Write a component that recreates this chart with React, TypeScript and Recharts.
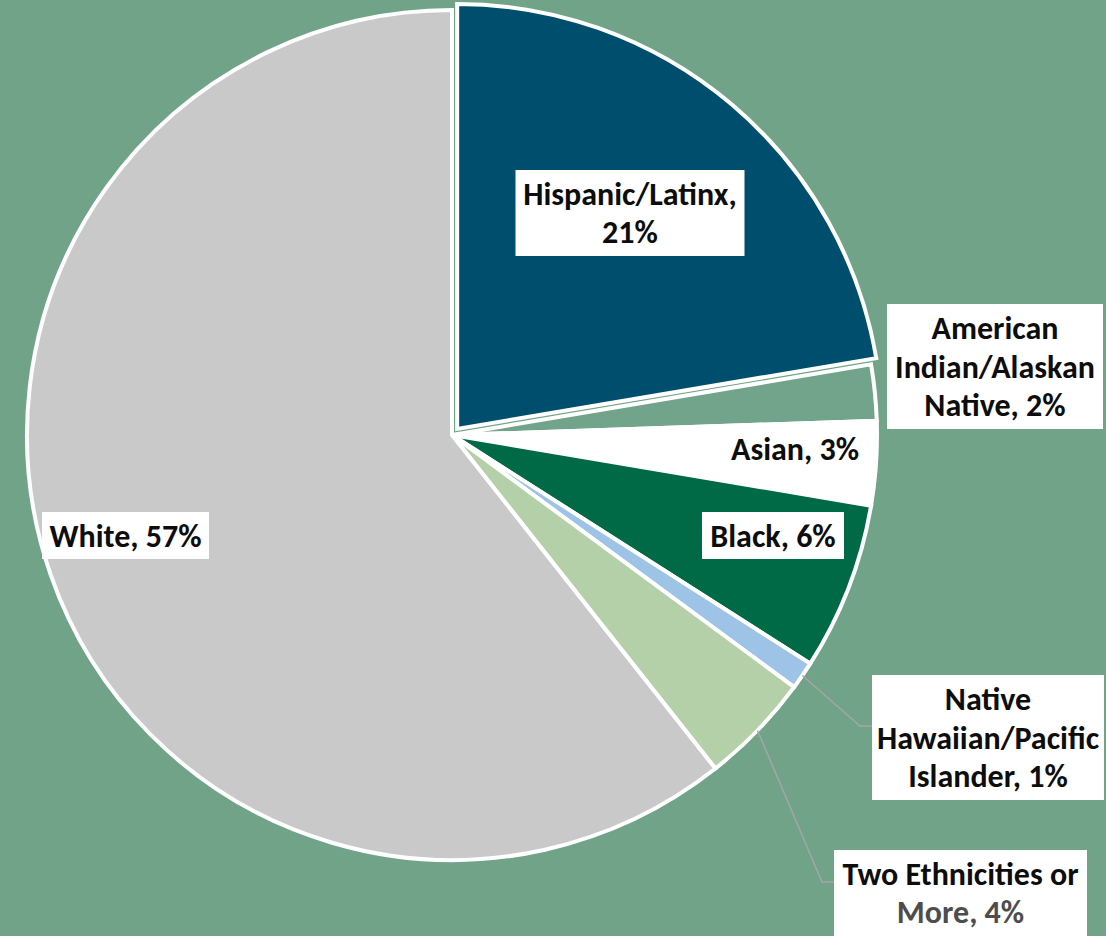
import { PieChart, Pie, Cell } from "recharts";

const CATEGORIES = [
  "Hispanic/Latinx",
  "American Indian/Alaskan Native",
  "Asian",
  "Black",
  "Native Hawaiian/Pacific Islander",
  "Two Ethnicities or More",
  "White",
];
const VALUES = [21, 2, 3, 6, 1, 4, 57];
const LABEL_LINES = [
  ["Hispanic/Latinx,", "21%"],
  ["American", "Indian/Alaskan", "Native, 2%"],
  ["Asian, 3%"],
  ["Black, 6%"],
  ["Native", "Hawaiian/Pacific", "Islander, 1%"],
  ["Two Ethnicities or", "More, 4%"],
  ["White, 57%"],
];

const COLORS = ["#004E6E", "#71A48A", "#FFFFFF", "#006946", "#9DC3E6", "#B4D0A8", "#C9C9C9"];
const BG = "#71A389";
const FONT = "Carlito, 'Liberation Sans Narrow', Lato, sans-serif";
const FONT_SIZE = 32;
const LINE_H = 38.5;

// label boxes, offsets from the pie centre (px); elbow = leader line bend
const LAYOUT = [
  { dx: 178, dy: -222, w: 229, h: 86 },
  { dx: 543, dy: -68.5, w: 216, h: 125 },
  { dx: 343, dy: 14, w: 0, h: 0 },
  { dx: 321, dy: 100.5, w: 142, h: 47 },
  { dx: 536, dy: 302.5, w: 232, h: 125, elbow: [408, 291] },
  { dx: 508.5, dy: 458, w: 253, h: 86, elbow: [370, 447], dimLast: true },
  { dx: -326.5, dy: 100.5, w: 167, h: 47 },
];

const data = CATEGORIES.map((name, i) => ({ name, value: VALUES[i] }));

const CX = 452;
const CY = 435;
const R = 425;
const EXPLODE = 8;
const total = VALUES.reduce((s, v) => s + v, 0);
const hispMid = 90 - (360 * VALUES[0]) / total / 2;
const RAD = Math.PI / 180;
const exCx = CX + EXPLODE * Math.cos(hispMid * RAD);
const exCy = CY - EXPLODE * Math.sin(hispMid * RAD);

function renderLabel(props: any) {
  const { cx, cy, index, midAngle, outerRadius } = props;
  const L: any = LAYOUT[index];
  const lines = LABEL_LINES[index];
  const bx = cx + L.dx;
  const by = cy + L.dy;
  const first = by + 11 - ((lines.length - 1) * LINE_H) / 2;
  let leader = null;
  if (L.elbow) {
    const sx = cx + outerRadius * Math.cos(-midAngle * RAD);
    const sy = cy + outerRadius * Math.sin(-midAngle * RAD);
    const ex = cx + L.elbow[0];
    const ey = cy + L.elbow[1];
    leader = (
      <polyline
        points={`${sx},${sy} ${ex},${ey} ${bx - L.w / 2},${ey}`}
        fill="none"
        stroke="#A6A6A6"
        strokeWidth={1.5}
      />
    );
  }
  return (
    <g key={`lab-${index}`}>
      {leader}
      {L.w > 0 && (
        <rect x={bx - L.w / 2} y={by - L.h / 2} width={L.w} height={L.h} fill="#FFFFFF" />
      )}
      <text
        x={bx}
        y={first}
        textAnchor="middle"
        fontFamily={FONT}
        fontWeight="bold"
        fontSize={FONT_SIZE}
        fill="#0D0D0D"
      >
        {lines.map((ln, j) => (
          <tspan
            key={j}
            x={bx}
            y={first + j * LINE_H}
            fill={L.dimLast && j === lines.length - 1 ? "#4D4D4D" : "#0D0D0D"}
          >
            {ln}
          </tspan>
        ))}
      </text>
    </g>
  );
}

export default function App() {
  return (
    <div
      style={{
        position: "absolute",
        left: 0,
        top: 0,
        width: 1106,
        height: 936,
        background: BG,
        overflow: "hidden",
      }}
    >
      <PieChart width={1106} height={936} margin={{ top: 0, right: 0, bottom: 0, left: 0 }}>
        {/* exploded Hispanic slice */}
        <Pie
          data={data}
          dataKey="value"
          nameKey="name"
          cx={exCx}
          cy={exCy}
          outerRadius={R}
          startAngle={90}
          endAngle={-270}
          label={false}
          labelLine={false}
          isAnimationActive={false}
        >
          {data.map((_, i) => (
            <Cell
              key={`ex-${i}`}
              fill={i === 0 ? COLORS[0] : "none"}
              stroke={i === 0 ? "#FFFFFF" : "none"}
              strokeWidth={4}
            />
          ))}
        </Pie>
        {/* remaining slices + labels */}
        <Pie
          data={data}
          dataKey="value"
          nameKey="name"
          cx={CX}
          cy={CY}
          outerRadius={R}
          startAngle={90}
          endAngle={-270}
          label={renderLabel}
          labelLine={false}
          isAnimationActive={false}
        >
          {data.map((_, i) => (
            <Cell
              key={`c-${i}`}
              fill={i === 0 ? "none" : COLORS[i]}
              stroke={i === 0 ? "none" : "#FFFFFF"}
              strokeWidth={4}
            />
          ))}
        </Pie>
      </PieChart>
    </div>
  );
}
